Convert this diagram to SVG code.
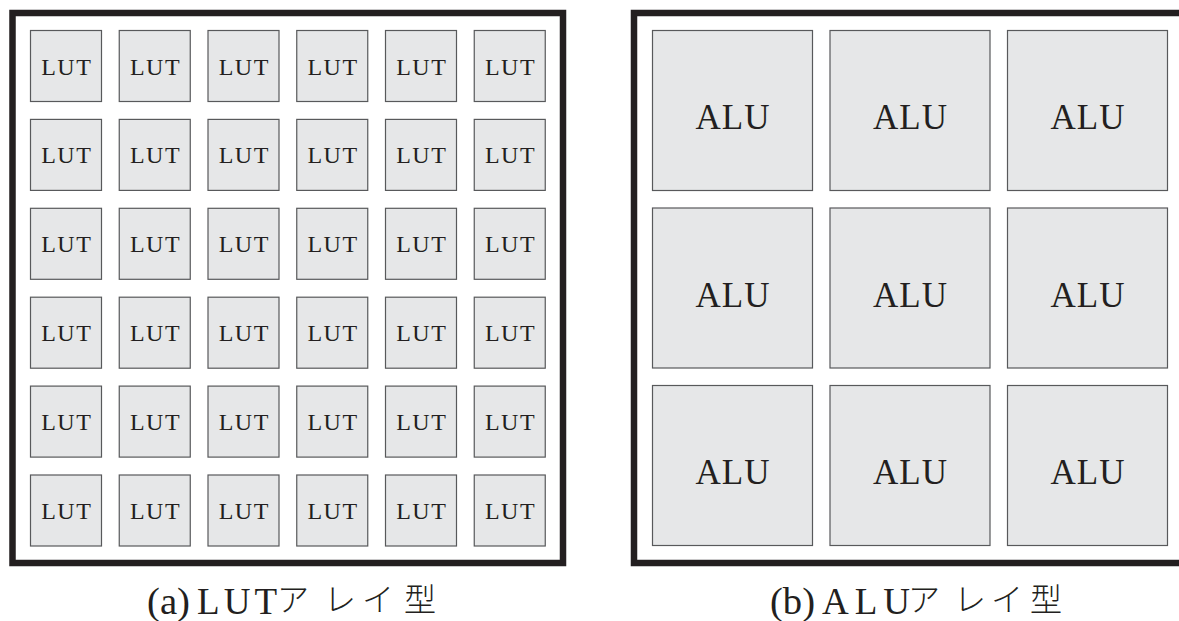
<svg xmlns="http://www.w3.org/2000/svg" width="1179" height="621" viewBox="0 0 1179 621">
<style>
.frame{fill:none;stroke:#231f20;stroke-width:6.5}
.cell{fill:#e6e7e8;stroke:#58595b;stroke-width:1.2}
.lut{font-family:"Liberation Serif","Times New Roman",serif;font-size:24px;letter-spacing:1.5px;fill:#231f20;text-anchor:middle}
.alu{font-family:"Liberation Serif","Times New Roman",serif;font-size:35px;letter-spacing:1px;fill:#231f20;text-anchor:middle}
.cap{font-family:"Liberation Serif","Times New Roman",serif;font-size:37px;fill:#231f20}
.kana{font-family:"Noto Sans CJK JP","Noto Sans CJK SC",sans-serif;font-size:32px;font-weight:300;fill:#231f20;text-anchor:middle}
</style>
<rect width="1179" height="621" fill="#ffffff"/>
<g id="frame-a"><rect class="frame" x="12.5" y="13" width="550.5" height="550"/></g>
<g id="frame-b"><rect class="frame" x="634" y="13" width="570" height="550"/></g>
<g id="lut-array">
<g id="lut-r0">
<rect class="cell" x="30.5" y="30.5" width="71" height="71"/><text class="lut" x="66.75" y="74.5">LUT</text>
<rect class="cell" x="119.25" y="30.5" width="71" height="71"/><text class="lut" x="155.5" y="74.5">LUT</text>
<rect class="cell" x="208" y="30.5" width="71" height="71"/><text class="lut" x="244.25" y="74.5">LUT</text>
<rect class="cell" x="296.75" y="30.5" width="71" height="71"/><text class="lut" x="333" y="74.5">LUT</text>
<rect class="cell" x="385.5" y="30.5" width="71" height="71"/><text class="lut" x="421.75" y="74.5">LUT</text>
<rect class="cell" x="474.25" y="30.5" width="71" height="71"/><text class="lut" x="510.5" y="74.5">LUT</text>
</g>
<g id="lut-r1">
<rect class="cell" x="30.5" y="119.4" width="71" height="71"/><text class="lut" x="66.75" y="163.4">LUT</text>
<rect class="cell" x="119.25" y="119.4" width="71" height="71"/><text class="lut" x="155.5" y="163.4">LUT</text>
<rect class="cell" x="208" y="119.4" width="71" height="71"/><text class="lut" x="244.25" y="163.4">LUT</text>
<rect class="cell" x="296.75" y="119.4" width="71" height="71"/><text class="lut" x="333" y="163.4">LUT</text>
<rect class="cell" x="385.5" y="119.4" width="71" height="71"/><text class="lut" x="421.75" y="163.4">LUT</text>
<rect class="cell" x="474.25" y="119.4" width="71" height="71"/><text class="lut" x="510.5" y="163.4">LUT</text>
</g>
<g id="lut-r2">
<rect class="cell" x="30.5" y="208.3" width="71" height="71"/><text class="lut" x="66.75" y="252.3">LUT</text>
<rect class="cell" x="119.25" y="208.3" width="71" height="71"/><text class="lut" x="155.5" y="252.3">LUT</text>
<rect class="cell" x="208" y="208.3" width="71" height="71"/><text class="lut" x="244.25" y="252.3">LUT</text>
<rect class="cell" x="296.75" y="208.3" width="71" height="71"/><text class="lut" x="333" y="252.3">LUT</text>
<rect class="cell" x="385.5" y="208.3" width="71" height="71"/><text class="lut" x="421.75" y="252.3">LUT</text>
<rect class="cell" x="474.25" y="208.3" width="71" height="71"/><text class="lut" x="510.5" y="252.3">LUT</text>
</g>
<g id="lut-r3">
<rect class="cell" x="30.5" y="297.2" width="71" height="71"/><text class="lut" x="66.75" y="341.2">LUT</text>
<rect class="cell" x="119.25" y="297.2" width="71" height="71"/><text class="lut" x="155.5" y="341.2">LUT</text>
<rect class="cell" x="208" y="297.2" width="71" height="71"/><text class="lut" x="244.25" y="341.2">LUT</text>
<rect class="cell" x="296.75" y="297.2" width="71" height="71"/><text class="lut" x="333" y="341.2">LUT</text>
<rect class="cell" x="385.5" y="297.2" width="71" height="71"/><text class="lut" x="421.75" y="341.2">LUT</text>
<rect class="cell" x="474.25" y="297.2" width="71" height="71"/><text class="lut" x="510.5" y="341.2">LUT</text>
</g>
<g id="lut-r4">
<rect class="cell" x="30.5" y="386.1" width="71" height="71"/><text class="lut" x="66.75" y="430.1">LUT</text>
<rect class="cell" x="119.25" y="386.1" width="71" height="71"/><text class="lut" x="155.5" y="430.1">LUT</text>
<rect class="cell" x="208" y="386.1" width="71" height="71"/><text class="lut" x="244.25" y="430.1">LUT</text>
<rect class="cell" x="296.75" y="386.1" width="71" height="71"/><text class="lut" x="333" y="430.1">LUT</text>
<rect class="cell" x="385.5" y="386.1" width="71" height="71"/><text class="lut" x="421.75" y="430.1">LUT</text>
<rect class="cell" x="474.25" y="386.1" width="71" height="71"/><text class="lut" x="510.5" y="430.1">LUT</text>
</g>
<g id="lut-r5">
<rect class="cell" x="30.5" y="475" width="71" height="71"/><text class="lut" x="66.75" y="519">LUT</text>
<rect class="cell" x="119.25" y="475" width="71" height="71"/><text class="lut" x="155.5" y="519">LUT</text>
<rect class="cell" x="208" y="475" width="71" height="71"/><text class="lut" x="244.25" y="519">LUT</text>
<rect class="cell" x="296.75" y="475" width="71" height="71"/><text class="lut" x="333" y="519">LUT</text>
<rect class="cell" x="385.5" y="475" width="71" height="71"/><text class="lut" x="421.75" y="519">LUT</text>
<rect class="cell" x="474.25" y="475" width="71" height="71"/><text class="lut" x="510.5" y="519">LUT</text>
</g>
</g>
<g id="alu-array">
<g id="alu-r0">
<rect class="cell" x="652.5" y="30.5" width="160" height="160"/><text class="alu" x="733" y="129">ALU</text>
<rect class="cell" x="830" y="30.5" width="160" height="160"/><text class="alu" x="910.5" y="129">ALU</text>
<rect class="cell" x="1007.5" y="30.5" width="160" height="160"/><text class="alu" x="1088" y="129">ALU</text>
</g>
<g id="alu-r1">
<rect class="cell" x="652.5" y="208" width="160" height="160"/><text class="alu" x="733" y="306.5">ALU</text>
<rect class="cell" x="830" y="208" width="160" height="160"/><text class="alu" x="910.5" y="306.5">ALU</text>
<rect class="cell" x="1007.5" y="208" width="160" height="160"/><text class="alu" x="1088" y="306.5">ALU</text>
</g>
<g id="alu-r2">
<rect class="cell" x="652.5" y="385.5" width="160" height="160"/><text class="alu" x="733" y="484">ALU</text>
<rect class="cell" x="830" y="385.5" width="160" height="160"/><text class="alu" x="910.5" y="484">ALU</text>
<rect class="cell" x="1007.5" y="385.5" width="160" height="160"/><text class="alu" x="1088" y="484">ALU</text>
</g>
</g>
<g id="caption-a">
<text class="cap" x="147" y="614" textLength="43" lengthAdjust="spacingAndGlyphs">(a)</text>
<text class="cap" x="197" y="614" textLength="80" lengthAdjust="spacing">LUT</text>
<text class="kana" x="293" y="611">ア</text>
<text class="kana" x="340" y="611">レ</text>
<text class="kana" x="378" y="611">イ</text>
<text class="kana" x="420" y="611">型</text>
</g>
<g id="caption-b">
<text class="cap" x="770" y="614" textLength="45" lengthAdjust="spacingAndGlyphs">(b)</text>
<text class="cap" x="822" y="614" textLength="88" lengthAdjust="spacing">ALU</text>
<text class="kana" x="924" y="611">ア</text>
<text class="kana" x="970" y="611">レ</text>
<text class="kana" x="1007" y="611">イ</text>
<text class="kana" x="1046" y="611">型</text>
</g>
</svg>
